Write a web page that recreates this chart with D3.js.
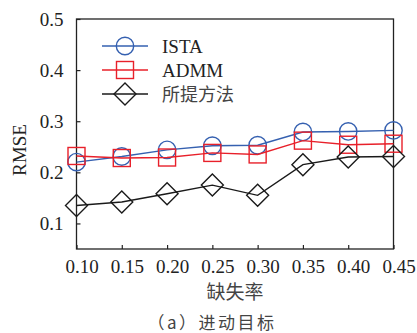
<!doctype html>
<html>
<head>
<meta charset="utf-8">
<script src="https://cdnjs.cloudflare.com/ajax/libs/d3/7.8.5/d3.min.js"></script>
<style>
body { margin: 0; background: #fff; }
text { font-family: "Liberation Serif", "Times New Roman", serif; fill: #222; }
.cjk { font-family: "Noto Sans CJK SC", sans-serif; }
</style>
</head>
<body>
<div id="chart"></div>
<script>
// missing rate
var rates = [0.10, 0.15, 0.20, 0.25, 0.30, 0.35, 0.40, 0.45];
var ista = [0.220, 0.231, 0.244, 0.252, 0.253, 0.279, 0.280, 0.282];
var admm = [0.232, 0.228, 0.229, 0.238, 0.235, 0.262, 0.254, 0.256];
var proposed = [0.135, 0.142, 0.158, 0.175, 0.155, 0.215, 0.230, 0.231];
var yTicks = [0.1, 0.2, 0.3, 0.4, 0.5];
var names = ["ISTA", "ADMM", "所提方法"];

var W = 417, H = 333;
var box = {left: 76.5, right: 393.5, top: 19, bottom: 249};

var svg = d3.select("#chart").append("svg")
    .attr("width", W).attr("height", H);

var x = d3.scaleLinear().domain([0.10, 0.45]).range([box.left, box.right]);
var y = d3.scaleLinear().domain([0.05, 0.5]).range([box.bottom, box.top]);

// frame
svg.append("rect")
    .attr("x", box.left).attr("y", box.top)
    .attr("width", box.right - box.left).attr("height", box.bottom - box.top)
    .attr("fill", "none").attr("stroke", "#222").attr("stroke-width", 1.3);

// y axis
var yAxis = svg.append("g")
    .attr("transform", "translate(" + box.left + ",0)")
    .call(d3.axisRight(y).tickValues(yTicks).tickSize(4).tickFormat(d3.format(".1f")));
yAxis.select(".domain").remove();
yAxis.selectAll("line").attr("stroke", "#222").attr("stroke-width", 1.2);
yAxis.selectAll("text")
    .attr("x", -13).attr("text-anchor", "end")
    .style("font-size", "19px");

// x axis
var xAxis = svg.append("g")
    .attr("transform", "translate(0," + box.bottom + ")")
    .call(d3.axisTop(x).tickValues(rates).tickSize(4).tickFormat(d3.format(".2f")));
xAxis.select(".domain").remove();
xAxis.selectAll("line").attr("stroke", "#222").attr("stroke-width", 1.2);
xAxis.selectAll("text")
    .attr("y", 24).attr("dx", 5).attr("dy", 0)
    .style("font-size", "19px");

svg.append("text")
    .attr("transform", "translate(26,150) rotate(-90)")
    .attr("text-anchor", "middle")
    .style("font-size", "19px")
    .text("RMSE");

svg.append("text").attr("class", "cjk")
    .attr("x", 235).attr("y", 299)
    .attr("text-anchor", "middle")
    .style("font-size", "19px").style("fill", "#444")
    .text("缺失率");

svg.append("text").attr("class", "cjk")
    .attr("x", 212).attr("y", 329)
    .attr("text-anchor", "middle")
    .style("font-size", "17px").style("letter-spacing", "2.5px").style("fill", "#444")
    .text("（a）进动目标");

var series = [
    {name: names[0], values: ista, color: "#3560b0", shape: "circle"},
    {name: names[1], values: admm, color: "#e8202a", shape: "square"},
    {name: names[2], values: proposed, color: "#1a1a1a", shape: "diamond"}
];

function marker(g, shape, color) {
    if (shape === "circle") {
        g.append("circle").attr("r", 8.7);
    } else if (shape === "square") {
        g.append("rect").attr("x", -8.5).attr("y", -8.5).attr("width", 17).attr("height", 17);
    } else {
        g.append("path").attr("d", "M0,-11L11,0L0,11L-11,0Z");
    }
    g.selectAll("*").attr("fill", "none").attr("stroke", color).attr("stroke-width", 1.4);
}

var line = d3.line().x(function (d, i) { return x(rates[i]); }).y(function (d) { return y(d); });

series.forEach(function (s) {
    svg.append("path")
        .attr("d", line(s.values))
        .attr("fill", "none").attr("stroke", s.color).attr("stroke-width", 1.4);
    s.values.forEach(function (v, i) {
        var g = svg.append("g").attr("transform", "translate(" + x(rates[i]) + "," + y(v) + ")");
        marker(g, s.shape, s.color);
    });
});

// legend
series.forEach(function (s, i) {
    var ly = 46 + i * 24;
    svg.append("line")
        .attr("x1", 102).attr("x2", 148).attr("y1", ly).attr("y2", ly)
        .attr("stroke", s.color).attr("stroke-width", 1.4);
    var g = svg.append("g").attr("transform", "translate(125," + ly + ")");
    marker(g, s.shape, s.color);
    svg.append("text")
        .attr("class", i === 2 ? "cjk" : null)
        .attr("x", 162).attr("y", ly + 7)
        .style("font-size", i === 2 ? "18px" : "19px")
        .style("fill", i === 2 ? "#444" : "#222")
        .text(s.name);
});
</script>
</body>
</html>
